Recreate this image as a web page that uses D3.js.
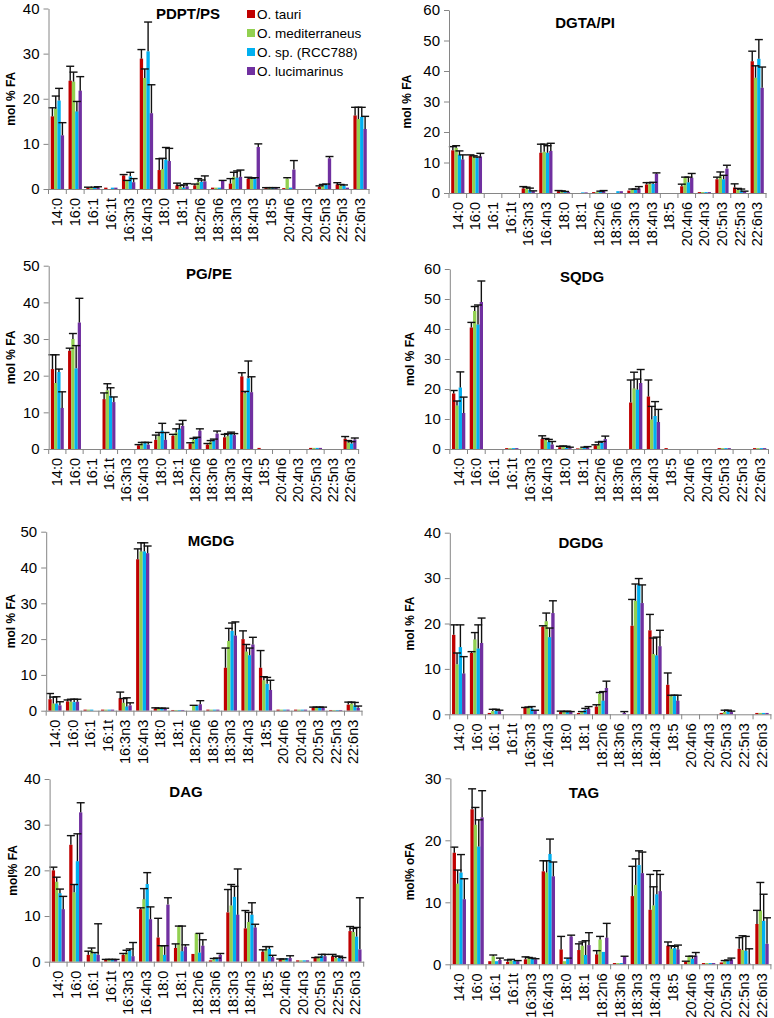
<!DOCTYPE html>
<html><head><meta charset="utf-8">
<script src="https://cdn.jsdelivr.net/npm/d3@7"></script>
<style>body{margin:0;background:#fff}svg{display:block}</style>
</head><body><svg id="c" width="774" height="1018"></svg>
<script>
const categories = ["14:0","16:0","16:1","16:1t","16:3n3","16:4n3","18:0","18:1","18:2n6","18:3n6","18:3n3","18:4n3","18:5","20:4n6","20:4n3","20:5n3","22:5n3","22:6n3"];
const seriesNames = ["O. tauri","O. mediterraneus","O. sp. (RCC788)","O. lucimarinus"];
const seriesColors = ["#C00000","#92D050","#00B0F0","#7030A0"];

const pdptMean = [
 [16.1,24,0.3,0.3,3.0,28.9,4.2,0.8,0.8,0.3,1.2,2.3,0.2,0.2,0,0.5,1.0,16.3],
 [17.8,23.8,0.3,0,1.8,24.6,4.4,0.5,1.5,0.3,2.7,2.2,0.2,2.3,0,0.7,0.8,15.5],
 [19.6,17.2,0.3,0.3,2.8,30.5,6.5,0.3,1.6,0.3,2.5,2.2,0.2,0.3,0,0.9,0.7,16.0],
 [11.9,21.8,0.4,0.3,1.5,16.8,6.2,0.6,1.7,1.8,2.7,9.3,0.2,4.3,0,6.8,0.3,13.3]];
const pdptSD = [
 [1.9,3.2,0.1,0,0.2,2.0,2.5,0.5,0.3,0,1.1,0.3,0.1,0,0,0.2,0.4,1.8],
 [2.8,2.1,0,0,0.1,2.0,2.4,0.3,0.8,0,1.0,0.2,0.1,0.2,0,0.3,0.2,2.6],
 [2.7,2.2,0.1,0,0.9,6.5,2.7,0.6,0.4,0,1.5,0.3,0.1,0,0,0.2,0.2,2.1],
 [2.8,3.1,0.1,0,0.8,6.3,2.8,0.6,1.2,0.1,1.5,0.7,0.1,2.0,0,0.4,0,2.8]];

const dgtaMean = [
 [14,12.3,0,0,1.5,13.2,0.6,0,0.3,0,0.8,2.8,0,2.2,0.3,4.5,1.8,43.2],
 [14.8,12.0,0,0,1.5,13.5,0.5,0,0.3,0,1.0,3.0,0,5.0,0.3,5.5,1.0,37.8],
 [12.5,11.5,0,0,1.0,13.2,0.4,0.2,0.5,0.6,1.1,3.0,0,3.5,0.3,4.5,0.8,44.0],
 [11.0,12.0,0,0,0.6,13.8,0.3,0.2,0.7,0.6,1.5,6.3,0,5.0,0.3,8.0,0.5,34.5]];
const dgtaSD = [
 [1.2,0.2,0,0,0.6,2.8,0.2,0,0,0,0,0.6,0,0.7,0,0.7,1.2,3.3],
 [0.7,0.2,0,0,0.4,2.5,0.2,0,0,0,0.3,0.4,0,0.2,0,1.4,0.5,3.9],
 [1.3,0.3,0,0,0.6,2.3,0.1,0,0.1,0,0.2,0.5,0,1.7,0,1.3,0.5,6.3],
 [1.5,1.0,0,0,0.1,2.5,0,0,0.1,0,0.6,0.3,0,1.4,0,1.1,0.1,6.8]];

const pgMean = [
 [21.8,26.8,0,13.6,0,1.0,2.5,3.6,1.5,1.2,3.2,19.8,0.3,0,0,0.3,0,2.8],
 [18.0,30.0,0,16.0,0,1.5,3.5,4.5,2.5,2.0,3.5,15.2,0,0,0,0.3,0,1.8],
 [21.0,22.0,0,14.5,0,1.6,5.0,5.5,3.0,2.5,4.2,19.3,0,0,0,0.3,0,1.5],
 [11.2,34.5,0,12.8,0,1.2,2.5,6.3,5.0,4.2,3.8,15.5,0,0,0,0.3,0,2.6]];
const pgSD = [
 [3.9,0.7,0,1.7,0,0.2,1.3,0.4,0.2,0.3,0.8,1.0,0,0,0,0,0,0.6],
 [7.7,1.5,0,1.8,0,0.3,1.0,1.0,0.4,0.3,0.7,0.5,0,0,0,0,0,0.5],
 [0.8,6.2,0,2.2,0,0.2,2.0,1.3,0.2,0.2,0.4,4.7,0,0,0,0,0,0.5],
 [4.4,6.6,0,1.4,0,0.6,2.0,1.5,0.5,0.7,0.4,4.2,0,0,0,0,0,0.4]];

const sqdgMean = [
 [18.5,40.5,0,0.3,0,3.3,0.6,0.2,1.2,0,15.5,17.5,0.3,0,0,0.3,0,0.3],
 [14.5,46.0,0,0.3,0,3.0,0.8,0.3,1.5,0,20.2,9.8,0,0,0,0.3,0,0.3],
 [20.5,41.5,0,0.3,0,2.4,0.4,0.4,2.0,0,19.8,11.0,0,0,0,0.3,0,0.3],
 [12.0,49.0,0,0.3,0,1.5,0.3,0.6,3.3,0,22.0,9.0,0,0,0,0.3,0,0.3]];
const sqdgSD = [
 [1.0,1.7,0,0,0,1.1,0.3,0,0.2,0,7.5,5.5,0,0,0,0,0,0],
 [1.5,1.5,0,0,0,0.5,0.2,0,0.8,0,5.4,4.4,0,0,0,0,0,0],
 [5.2,6.5,0,0,0,0.8,0.5,0.2,0.5,0,3.5,4.8,0,0,0,0,0,0],
 [5.3,7.0,0,0,0,1.0,0.3,0.2,1.0,0,4.5,4.2,0,0,0,0,0,0]];

const mgdgMean = [
 [3.2,2.6,0.3,0.3,3.5,42.3,0.6,0.2,0,0.3,12.0,20.0,12.0,0.3,0.3,0.8,0.2,1.7],
 [2.0,2.5,0.3,0.3,2.2,44.5,0.5,0.2,1.3,0.3,19.5,16.5,8.5,0.3,0.3,0.9,0.2,2.0],
 [2.0,2.4,0.3,0.3,1.2,44.5,0.5,0.2,1.5,0.3,22.3,15.5,7.5,0.3,0.3,0.9,0.2,1.5],
 [1.5,2.5,0,0.3,1.5,44.0,0.5,0.2,1.8,0.3,21.0,18.5,5.8,0.3,0.3,0.8,0.2,0.8]];
const mgdgSD = [
 [1.6,0.4,0,0,1.7,2.9,0.2,0,0,0,5.5,2.3,4.8,0,0,0.2,0,0.7],
 [1.8,0.7,0,0,1.2,2.4,0.2,0,0.2,0,3.5,2.0,1.0,0,0,0.1,0,0.4],
 [1.9,0.8,0,0,2.4,2.4,0.2,0,0,0,2.2,2.0,1.8,0,0,0.1,0,0.8],
 [1.0,0.7,0,0,0.7,2.0,0.2,0,1.0,0,3.8,2.0,2.7,0,0,0.2,0,0.5]];

const dgdgMean = [
 [17.5,13.5,0.3,0,1.4,19.3,0.5,0.3,1.7,0,19.5,18.5,6.5,0,0,0.3,0,0.3],
 [11.0,16.5,0.7,0,1.4,20.5,0.5,0.5,4.5,0,25.0,13.3,4.0,0,0,0.5,0,0.3],
 [14.8,14.5,0.8,0,1.3,17.0,0.6,1.0,3.0,0,28.5,13.0,4.0,0,0,0.7,0,0.3],
 [9.0,15.7,0.7,0,0.8,22.3,0.5,1.2,5.8,0.3,24.5,15.0,3.0,0,0,0.5,0,0.3]];
const dgdgSD = [
 [2.2,0.3,0,0,0.1,0.2,0.2,0,0.4,0,5.8,3.5,2.6,0,0,0,0,0],
 [2.5,1.5,0.4,0,0.2,1.8,0.1,0.1,0.3,0,3.7,3.5,0.2,0,0,0.4,0,0],
 [4.9,5.2,0.3,0,0.4,2.0,0.1,0.3,2.0,0,1.4,4.0,0.2,0,0,0.2,0,0],
 [3.7,5.5,0.2,0,0.1,2.7,0.1,0.5,1.5,0.3,4.0,3.5,1.2,0,0,0.2,0,0]];

const dagMean = [
 [20.0,25.6,1.5,0.4,1.5,11.5,5.3,3.0,1.7,0.3,10.8,7.3,2.2,0.5,0.3,0.8,1.2,6.7],
 [17.5,15.2,2.5,0.4,2.0,13.7,3.4,7.7,6.2,0.5,12.3,8.7,2.8,0.5,0.3,0.9,0.8,6.5],
 [15.0,22.0,1.8,0.4,2.5,17.0,1.5,2.3,2.0,0.6,14.2,10.3,2.8,0.8,0.3,1.3,0.8,5.5],
 [11.5,32.7,1.5,0.4,1.2,9.3,12.5,3.3,3.5,1.5,10.3,7.5,1.0,0.8,0.3,1.2,0.5,2.7]];
const dagSD = [
 [0.7,2.0,0.8,0.1,0.3,0.3,4.2,0.9,0,0,5.0,3.9,0.4,0.1,0,0.1,0.4,1.0],
 [1.0,1.7,0.5,0.1,0.5,2.3,0.1,0.1,0,0.2,4.6,2.1,0.5,0.1,0,0.1,0.4,0.8],
 [0.9,6.0,0.2,0.1,0.3,2.5,2.0,5.5,4.2,0.2,2.3,2.6,0.5,0,0,0.3,0.4,2.0],
 [2.8,2.1,6.8,0.1,3.0,2.7,1.5,0.4,1.3,0.3,10.0,0.7,0.4,0.5,0,0.4,0.4,11.3]];

const tagMean = [
 [18.0,25.0,0.5,0.4,0.8,15.0,2.4,2.3,1.6,0.2,11.0,8.8,3.0,0.4,0.2,0.3,2.5,6.5],
 [13.0,22.5,1.3,0.6,1.0,14.8,0.5,3.0,4.0,0.2,12.8,9.5,2.5,1.2,0.2,0.5,2.3,8.7],
 [14.8,19.0,0.5,0.6,0.9,17.8,0.9,1.5,2.0,0.2,16.0,11.3,2.6,0.9,0.2,0.6,2.2,7.0],
 [10.5,23.7,0.7,0.5,0.8,14.2,4.5,3.1,4.3,1.2,14.7,11.8,2.4,1.4,0.2,0.8,0.1,3.3]];
const tagSD = [
 [0.9,3.3,0,0.3,0.4,1.7,2.1,1.0,0.6,0,4.8,5.7,0.6,0.1,0,0,1.8,2.2],
 [2.2,2.8,0.2,0.2,0.1,1.9,0,0.6,0.5,0,4.2,3.0,0.5,0.1,0,0.1,2.3,4.5],
 [2.9,4.3,0,0,0.1,2.4,0.1,2.3,0,0,2.3,3.8,0.3,0.4,0,0.1,2.3,4.3],
 [3.3,4.3,0.3,0.1,0.1,2.3,0.2,2.0,2.3,0.1,3.4,2.7,0.7,0.5,0,0.2,2.4,4.2]];

const panels = [
 {title:"PDPT/PS", mean:pdptMean, sd:pdptSD, max:40, yTitle:"mol % FA", x0:48.5, x1:369, y0:189, yTop:8.5, tx:188, ty:14, ytx:11, legend:true},
 {title:"DGTA/PI", mean:dgtaMean, sd:dgtaSD, max:60, yTitle:"mol % FA", x0:449, x1:766, y0:193, yTop:10, tx:585, ty:23, ytx:407},
 {title:"PG/PE", mean:pgMean, sd:pgSD, max:50, yTitle:"mol % FA", x0:48.7, x1:358.6, y0:449, yTop:265.7, tx:209, ty:274, ytx:11},
 {title:"SQDG", mean:sqdgMean, sd:sqdgSD, max:60, yTitle:"mol % FA", x0:449.8, x1:768.5, y0:449, yTop:269, tx:582, ty:277, ytx:410},
 {title:"MGDG", mean:mgdgMean, sd:mgdgSD, max:50, yTitle:"mol % FA", x0:46.2, x1:362, y0:710.7, yTop:531.7, tx:211, ty:541, ytx:11},
 {title:"DGDG", mean:dgdgMean, sd:dgdgSD, max:40, yTitle:"mol % FA", x0:449.8, x1:770.9, y0:714.3, yTop:532.7, tx:581, ty:543, ytx:410},
 {title:"DAG", mean:dagMean, sd:dagSD, max:40, yTitle:"mol% FA", x0:49.6, x1:363.7, y0:961.7, yTop:779, tx:186, ty:792, ytx:13},
 {title:"TAG", mean:tagMean, sd:tagSD, max:30, yTitle:"mol% oFA", x0:450.4, x1:770.9, y0:964.3, yTop:778.3, tx:584, ty:793, ytx:410}
];

const svg = d3.select("#c");
const axisColor = "#868686";
const FONT = "'Liberation Sans', Arial, sans-serif";

panels.forEach(p => {
  const g = svg.append("g");
  const x = d3.scaleBand().domain(categories).range([p.x0, p.x1]).padding(0);
  const step = x.bandwidth();
  const xs = d3.scaleBand().domain(d3.range(seriesNames.length)).range([step*0.125, step*0.875]).padding(0);
  const y = d3.scaleLinear().domain([0, p.max]).range([p.y0, p.yTop]);

  p.mean.forEach((vals, si) => {
    g.append("g").selectAll("rect").data(vals).join("rect")
      .attr("x", (d,i) => x(categories[i]) + xs(si))
      .attr("width", xs.bandwidth())
      .attr("y", d => y(d))
      .attr("height", d => y(0) - y(d))
      .attr("fill", seriesColors[si]);
  });
  p.mean.forEach((vals, si) => {
    const eg = g.append("g").attr("stroke", "#111").attr("stroke-width", 1.4);
    vals.forEach((d, i) => {
      const e = p.sd[si][i];
      if (!e) return;
      const cx = x(categories[i]) + xs(si) + xs.bandwidth()/2;
      eg.append("line").attr("x1", cx).attr("x2", cx).attr("y1", y(d)).attr("y2", y(d+e));
      eg.append("line").attr("x1", cx-4).attr("x2", cx+4).attr("y1", y(d+e)).attr("y2", y(d+e));
    });
  });

  const ya = g.append("g").attr("transform", `translate(${p.x0},0)`)
    .call(d3.axisLeft(y).tickValues(d3.range(0, p.max + 1, 10)).tickSize(5).tickSizeOuter(0).tickPadding(4));
  ya.select(".domain").attr("stroke", axisColor);
  ya.selectAll(".tick line").attr("stroke", axisColor);
  ya.selectAll(".tick text").attr("fill", "#000").style("font-family", FONT).style("font-size", "15px");

  const xa = g.append("g").attr("transform", `translate(0,${p.y0})`)
    .call(d3.axisBottom(x).tickSize(0).tickSizeOuter(0).tickPadding(0));
  xa.select(".domain").attr("stroke", axisColor);
  xa.selectAll(".tick text")
    .attr("transform", "translate(0,9) rotate(-90)")
    .attr("x", 0).attr("y", 0).attr("dy", "0.35em")
    .attr("text-anchor", "end").attr("fill", "#000")
    .style("font-family", FONT).style("font-size", "14.5px");
  g.append("g").selectAll("line").data(d3.range(categories.length + 1)).join("line")
    .attr("x1", i => p.x0 + i*step).attr("x2", i => p.x0 + i*step)
    .attr("y1", p.y0).attr("y2", p.y0 + 5).attr("stroke", axisColor);

  g.append("text").attr("x", p.tx).attr("y", p.ty).attr("dy", "0.35em")
    .attr("text-anchor", "middle").style("font-family", FONT)
    .style("font-weight", "bold").style("font-size", "15px").text(p.title);
  g.append("text").attr("transform", `translate(${p.ytx},${(p.y0 + p.yTop)/2}) rotate(-90)`)
    .attr("dy", "0.35em").attr("text-anchor", "middle").style("font-family", FONT)
    .style("font-weight", "bold").style("font-size", "12px").text(p.yTitle);

  if (p.legend) {
    const lg = g.append("g");
    seriesNames.forEach((s, i) => {
      const ly = 14 + i*19;
      lg.append("rect").attr("x", 247).attr("y", ly - 4).attr("width", 8).attr("height", 8).attr("fill", seriesColors[i]);
      lg.append("text").attr("x", 257).attr("y", ly).attr("dy", "0.35em")
        .style("font-family", FONT).style("font-size", "13.5px").text(s);
    });
  }
});
</script></body></html>
